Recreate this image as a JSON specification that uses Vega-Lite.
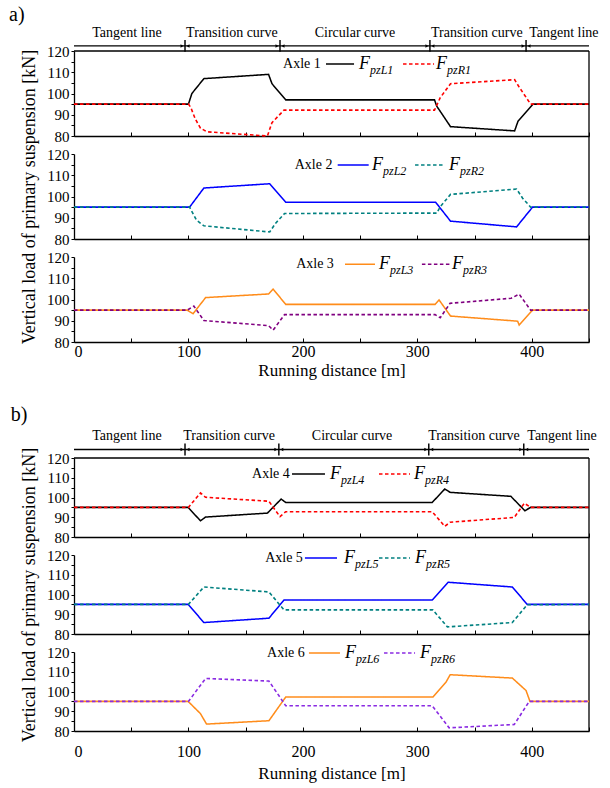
{
"$schema":"https://vega.github.io/schema/vega-lite/v6.json",
"padding":{"left":9,"top":4,"right":4,"bottom":4},
"background":"white",
"config":{"view":{"stroke":null},"font":"Liberation Serif",
 "axis":{"domainColor":"black","tickColor":"black","labelColor":"black","titleColor":"black","grid":false,"labelFont":"Liberation Serif","titleFont":"Liberation Serif","titleFontWeight":"normal","domainWidth":1.3},
 "text":{"font":"Liberation Serif","color":"black"}},
"datasets":{
"ln":[
{"p":1,"k":"L1","s":"L","x":0,"y":95},{"p":1,"k":"L1","s":"L","x":100,"y":95},{"p":1,"k":"L1","s":"L","x":103,"y":100},{"p":1,"k":"L1","s":"L","x":113.5,"y":107},{"p":1,"k":"L1","s":"L","x":170,"y":109},{"p":1,"k":"L1","s":"L","x":173,"y":104.6},{"p":1,"k":"L1","s":"L","x":185,"y":97},{"p":1,"k":"L1","s":"L","x":315,"y":97},{"p":1,"k":"L1","s":"L","x":317,"y":94},{"p":1,"k":"L1","s":"L","x":329,"y":84.4},{"p":1,"k":"L1","s":"L","x":385,"y":82.4},{"p":1,"k":"L1","s":"L","x":388,"y":87},{"p":1,"k":"L1","s":"L","x":401,"y":95},{"p":1,"k":"L1","s":"L","x":450,"y":95},
{"p":1,"k":"R1","s":"R","x":0,"y":95},{"p":1,"k":"R1","s":"R","x":100,"y":95},{"p":1,"k":"R1","s":"R","x":102,"y":93.5},{"p":1,"k":"R1","s":"R","x":106,"y":88},{"p":1,"k":"R1","s":"R","x":110.5,"y":83.7},{"p":1,"k":"R1","s":"R","x":116,"y":82},{"p":1,"k":"R1","s":"R","x":169,"y":80},{"p":1,"k":"R1","s":"R","x":173,"y":86.3},{"p":1,"k":"R1","s":"R","x":183.5,"y":92.2},{"p":1,"k":"R1","s":"R","x":315,"y":92.2},{"p":1,"k":"R1","s":"R","x":320,"y":98},{"p":1,"k":"R1","s":"R","x":329,"y":104.6},{"p":1,"k":"R1","s":"R","x":385,"y":106.5},{"p":1,"k":"R1","s":"R","x":389,"y":103},{"p":1,"k":"R1","s":"R","x":399,"y":95},{"p":1,"k":"R1","s":"R","x":450,"y":95},
{"p":2,"k":"L2","s":"L","x":0,"y":95},{"p":2,"k":"L2","s":"L","x":101,"y":95},{"p":2,"k":"L2","s":"L","x":113.5,"y":104},{"p":2,"k":"L2","s":"L","x":171,"y":106},{"p":2,"k":"L2","s":"L","x":185,"y":97.3},{"p":2,"k":"L2","s":"L","x":316,"y":97.3},{"p":2,"k":"L2","s":"L","x":329,"y":88.4},{"p":2,"k":"L2","s":"L","x":386.7,"y":85.7},{"p":2,"k":"L2","s":"L","x":400.7,"y":95},{"p":2,"k":"L2","s":"L","x":450,"y":95},
{"p":2,"k":"R2","s":"R","x":0,"y":95},{"p":2,"k":"R2","s":"R","x":101,"y":95},{"p":2,"k":"R2","s":"R","x":107,"y":88.9},{"p":2,"k":"R2","s":"R","x":113.5,"y":86.2},{"p":2,"k":"R2","s":"R","x":171,"y":83.3},{"p":2,"k":"R2","s":"R","x":176,"y":87.3},{"p":2,"k":"R2","s":"R","x":184,"y":92},{"p":2,"k":"R2","s":"R","x":317,"y":92.2},{"p":2,"k":"R2","s":"R","x":320,"y":95.2},{"p":2,"k":"R2","s":"R","x":329,"y":101},{"p":2,"k":"R2","s":"R","x":386.7,"y":103.5},{"p":2,"k":"R2","s":"R","x":392,"y":99.2},{"p":2,"k":"R2","s":"R","x":399,"y":95},{"p":2,"k":"R2","s":"R","x":450,"y":95},
{"p":3,"k":"L3","s":"L","x":0,"y":95},{"p":3,"k":"L3","s":"L","x":99,"y":95},{"p":3,"k":"L3","s":"L","x":104,"y":93.3},{"p":3,"k":"L3","s":"L","x":115,"y":100.9},{"p":3,"k":"L3","s":"L","x":170,"y":102.6},{"p":3,"k":"L3","s":"L","x":174,"y":104.9},{"p":3,"k":"L3","s":"L","x":185,"y":97.7},{"p":3,"k":"L3","s":"L","x":315.5,"y":97.7},{"p":3,"k":"L3","s":"L","x":319,"y":99.8},{"p":3,"k":"L3","s":"L","x":329,"y":92.2},{"p":3,"k":"L3","s":"L","x":387.6,"y":89.8},{"p":3,"k":"L3","s":"L","x":389,"y":88},{"p":3,"k":"L3","s":"L","x":400.7,"y":95},{"p":3,"k":"L3","s":"L","x":450,"y":95},
{"p":3,"k":"R3","s":"R","x":0,"y":95},{"p":3,"k":"R3","s":"R","x":99,"y":95},{"p":3,"k":"R3","s":"R","x":104.7,"y":96.9},{"p":3,"k":"R3","s":"R","x":113.5,"y":90.1},{"p":3,"k":"R3","s":"R","x":170,"y":87.7},{"p":3,"k":"R3","s":"R","x":174,"y":85.6},{"p":3,"k":"R3","s":"R","x":184,"y":92.9},{"p":3,"k":"R3","s":"R","x":315.5,"y":92.9},{"p":3,"k":"R3","s":"R","x":320,"y":91.4},{"p":3,"k":"R3","s":"R","x":328.6,"y":98.2},{"p":3,"k":"R3","s":"R","x":382,"y":100.6},{"p":3,"k":"R3","s":"R","x":389,"y":102.5},{"p":3,"k":"R3","s":"R","x":399,"y":95},{"p":3,"k":"R3","s":"R","x":450,"y":95},
{"p":4,"k":"L4","s":"L","x":0,"y":95},{"p":4,"k":"L4","s":"L","x":99.7,"y":95},{"p":4,"k":"L4","s":"L","x":110.5,"y":88.2},{"p":4,"k":"L4","s":"L","x":115,"y":90.1},{"p":4,"k":"L4","s":"L","x":169,"y":92.1},{"p":4,"k":"L4","s":"L","x":181,"y":99.2},{"p":4,"k":"L4","s":"L","x":185,"y":97.5},{"p":4,"k":"L4","s":"L","x":313,"y":97.5},{"p":4,"k":"L4","s":"L","x":324,"y":104.3},{"p":4,"k":"L4","s":"L","x":328.7,"y":102.6},{"p":4,"k":"L4","s":"L","x":381.7,"y":100.6},{"p":4,"k":"L4","s":"L","x":394,"y":93.3},{"p":4,"k":"L4","s":"L","x":399,"y":95},{"p":4,"k":"L4","s":"L","x":450,"y":95},
{"p":4,"k":"R4","s":"R","x":0,"y":95},{"p":4,"k":"R4","s":"R","x":100,"y":95},{"p":4,"k":"R4","s":"R","x":110.5,"y":102.3},{"p":4,"k":"R4","s":"R","x":115,"y":100.1},{"p":4,"k":"R4","s":"R","x":170.3,"y":98.1},{"p":4,"k":"R4","s":"R","x":176,"y":93.5},{"p":4,"k":"R4","s":"R","x":180,"y":90.3},{"p":4,"k":"R4","s":"R","x":185,"y":92.8},{"p":4,"k":"R4","s":"R","x":313,"y":92.8},{"p":4,"k":"R4","s":"R","x":324,"y":85.4},{"p":4,"k":"R4","s":"R","x":328.7,"y":87.5},{"p":4,"k":"R4","s":"R","x":384.7,"y":89.9},{"p":4,"k":"R4","s":"R","x":393.5,"y":97.1},{"p":4,"k":"R4","s":"R","x":399,"y":95},{"p":4,"k":"R4","s":"R","x":450,"y":95},
{"p":5,"k":"L5","s":"L","x":0,"y":95},{"p":5,"k":"L5","s":"L","x":99.7,"y":95},{"p":5,"k":"L5","s":"L","x":113.5,"y":85.8},{"p":5,"k":"L5","s":"L","x":170.3,"y":88},{"p":5,"k":"L5","s":"L","x":183.5,"y":97.2},{"p":5,"k":"L5","s":"L","x":313,"y":97.2},{"p":5,"k":"L5","s":"L","x":327,"y":106.2},{"p":5,"k":"L5","s":"L","x":383,"y":103.8},{"p":5,"k":"L5","s":"L","x":396,"y":95},{"p":5,"k":"L5","s":"L","x":450,"y":95},
{"p":5,"k":"R5","s":"R","x":0,"y":95},{"p":5,"k":"R5","s":"R","x":100,"y":95},{"p":5,"k":"R5","s":"R","x":113.5,"y":103.8},{"p":5,"k":"R5","s":"R","x":170.3,"y":101.3},{"p":5,"k":"R5","s":"R","x":183.5,"y":92.2},{"p":5,"k":"R5","s":"R","x":313.5,"y":92.2},{"p":5,"k":"R5","s":"R","x":326.3,"y":83.6},{"p":5,"k":"R5","s":"R","x":383,"y":85.8},{"p":5,"k":"R5","s":"R","x":396,"y":94.8},{"p":5,"k":"R5","s":"R","x":450,"y":95},
{"p":6,"k":"L6","s":"L","x":0,"y":95},{"p":6,"k":"L6","s":"L","x":99.7,"y":95},{"p":6,"k":"L6","s":"L","x":110.5,"y":88.8},{"p":6,"k":"L6","s":"L","x":115.8,"y":83.5},{"p":6,"k":"L6","s":"L","x":170.3,"y":85.2},{"p":6,"k":"L6","s":"L","x":185,"y":97.2},{"p":6,"k":"L6","s":"L","x":313.7,"y":97.2},{"p":6,"k":"L6","s":"L","x":325,"y":104.7},{"p":6,"k":"L6","s":"L","x":328.7,"y":108.5},{"p":6,"k":"L6","s":"L","x":383,"y":106.8},{"p":6,"k":"L6","s":"L","x":395,"y":100.5},{"p":6,"k":"L6","s":"L","x":398.4,"y":95},{"p":6,"k":"L6","s":"L","x":450,"y":95},
{"p":6,"k":"R6","s":"R","x":0,"y":95},{"p":6,"k":"R6","s":"R","x":100,"y":95},{"p":6,"k":"R6","s":"R","x":115,"y":106.6},{"p":6,"k":"R6","s":"R","x":170.3,"y":105.3},{"p":6,"k":"R6","s":"R","x":185,"y":92.8},{"p":6,"k":"R6","s":"R","x":313,"y":92.8},{"p":6,"k":"R6","s":"R","x":327.8,"y":81.6},{"p":6,"k":"R6","s":"R","x":384.7,"y":83.3},{"p":6,"k":"R6","s":"R","x":397.8,"y":95},{"p":6,"k":"R6","s":"R","x":450,"y":95}
],
"rl":[
{"p":1,"t":"frame","x":450,"x2":450,"y":80,"y2":120},{"p":1,"t":"frame","x":0,"x2":450,"y":120,"y2":120},{"p":1,"t":"annot","x":0,"x2":450,"y":122.4,"y2":122.4},
{"p":1,"t":"mark","x":97,"x2":97,"y":119.6,"y2":125.2},{"p":1,"t":"mark","x":180,"x2":180,"y":119.6,"y2":125.2},{"p":1,"t":"mark","x":311,"x2":311,"y":119.6,"y2":125.2},{"p":1,"t":"mark","x":395,"x2":395,"y":119.6,"y2":125.2},
{"p":2,"t":"frame","x":450,"x2":450,"y":80,"y2":128.5},
{"p":3,"t":"frame","x":450,"x2":450,"y":80,"y2":128.5},
{"p":4,"t":"frame","x":450,"x2":450,"y":80,"y2":120},{"p":4,"t":"frame","x":0,"x2":450,"y":120,"y2":120},{"p":4,"t":"annot","x":0,"x2":450,"y":124.3,"y2":124.3},
{"p":4,"t":"mark","x":97,"x2":97,"y":121.3,"y2":127.3},{"p":4,"t":"mark","x":179,"x2":179,"y":121.3,"y2":127.3},{"p":4,"t":"mark","x":310,"x2":310,"y":121.3,"y2":127.3},{"p":4,"t":"mark","x":393,"x2":393,"y":121.3,"y2":127.3},
{"p":5,"t":"frame","x":450,"x2":450,"y":80,"y2":129.1},
{"p":6,"t":"frame","x":450,"x2":450,"y":80,"y2":129.1}
],
"ar":[
{"p":1,"d":"r","x":94.4,"y":122.4},{"p":1,"d":"l","x":99.6,"y":122.4},{"p":1,"d":"r","x":177.4,"y":122.4},{"p":1,"d":"l","x":182.6,"y":122.4},{"p":1,"d":"r","x":308.4,"y":122.4},{"p":1,"d":"l","x":313.6,"y":122.4},{"p":1,"d":"r","x":392.4,"y":122.4},{"p":1,"d":"l","x":397.6,"y":122.4},
{"p":4,"d":"r","x":94.4,"y":124.3},{"p":4,"d":"l","x":99.6,"y":124.3},{"p":4,"d":"r","x":176.4,"y":124.3},{"p":4,"d":"l","x":181.6,"y":124.3},{"p":4,"d":"r","x":307.4,"y":124.3},{"p":4,"d":"l","x":312.6,"y":124.3},{"p":4,"d":"r","x":390.4,"y":124.3},{"p":4,"d":"l","x":395.6,"y":124.3}
],
"lg":[
{"p":1,"k":"L1","s":"L","x":220.2,"x2":244.7,"y":113.9,"xf":249,"sub":"pzL1"},{"p":1,"k":"R1","s":"R","x":287.5,"x2":314.6,"y":113.9,"xf":316.3,"sub":"pzR1"},
{"p":2,"k":"L2","s":"L","x":230.4,"x2":257.5,"y":114.8,"xf":260.4,"sub":"pzL2"},{"p":2,"k":"R2","s":"R","x":298,"x2":324.2,"y":114.8,"xf":327.7,"sub":"pzR2"},
{"p":3,"k":"L3","s":"L","x":236.8,"x2":263,"y":116.6,"xf":266.5,"sub":"pzL3"},{"p":3,"k":"R3","s":"R","x":304,"x2":328.6,"y":116.6,"xf":330.3,"sub":"pzR3"},
{"p":4,"k":"L4","s":"L","x":190.5,"x2":219.3,"y":111.9,"xf":223.7,"sub":"pzL4"},{"p":4,"k":"R4","s":"R","x":266.5,"x2":293.6,"y":111.9,"xf":297.1,"sub":"pzR4"},
{"p":5,"k":"L5","s":"L","x":201.8,"x2":229.8,"y":118.5,"xf":236,"sub":"pzL5"},{"p":5,"k":"R5","s":"R","x":266.5,"x2":293.6,"y":118.5,"xf":298,"sub":"pzR5"},
{"p":6,"k":"L6","s":"L","x":205.3,"x2":232.4,"y":119.5,"xf":236.8,"sub":"pzL6"},{"p":6,"k":"R6","s":"R","x":270.9,"x2":298,"y":119.5,"xf":302.3,"sub":"pzR6"}
],
"tx":[
{"p":1,"t":"axle","x":199.2,"y":113.9,"text":"Axle 1"},{"p":1,"t":"sec","x":46.3,"y":128.5,"text":"Tangent line"},{"p":1,"t":"sec","x":138,"y":128.5,"text":"Transition curve"},{"p":1,"t":"sec","x":245.5,"y":128.5,"text":"Circular curve"},{"p":1,"t":"sec","x":352,"y":128.5,"text":"Transition curve"},{"p":1,"t":"sec","x":428,"y":128.5,"text":"Tangent line"},{"p":1,"t":"pan","x":-50,"y":137,"text":"a)"},
{"p":2,"t":"axle","x":209.3,"y":114.8,"text":"Axle 2"},
{"p":3,"t":"axle","x":210.6,"y":116.6,"text":"Axle 3"},
{"p":4,"t":"axle","x":172.1,"y":111.9,"text":"Axle 4"},{"p":4,"t":"sec","x":46.3,"y":131,"text":"Tangent line"},{"p":4,"t":"sec","x":135.5,"y":131,"text":"Transition curve"},{"p":4,"t":"sec","x":243,"y":131,"text":"Circular curve"},{"p":4,"t":"sec","x":349.5,"y":131,"text":"Transition curve"},{"p":4,"t":"sec","x":426.4,"y":131,"text":"Tangent line"},{"p":4,"t":"pan","x":-48,"y":141.8,"text":"b)"},
{"p":5,"t":"axle","x":183.5,"y":118.5,"text":"Axle 5"},
{"p":6,"t":"axle","x":185.2,"y":119.5,"text":"Axle 6"}
]
},
"vconcat":[
{"width":515,"height":85,
 "encoding":{"x":{"field":"x","type":"quantitative","scale":{"domain":[0,450],"nice":false,"zero":false},"axis":{"values":[0,50,100,150,200,250,300,350,400,450],"labels":false,"tickSize":-4,"title":null}},
  "y":{"field":"y","type":"quantitative","scale":{"domain":[80,120],"nice":false,"zero":false},"axis":{"values":[80,85,90,95,100,105,110,115,120],"labelExpr":"datum.value % 10 == 0 ? datum.label : ''","tickSize":3,"labelPadding":2,"labelFontSize":15,"title":null}}},
 "layer":[
  {"data":{"name":"rl"},"transform":[{"filter":"datum.p==1"}],"mark":{"type":"rule","color":"black"},"encoding":{"x2":{"field":"x2"},"y2":{"field":"y2"},"strokeWidth":{"field":"t","type":"ordinal","scale":{"domain":["frame","annot","mark"],"range":[1.3,1.6,1.3]},"legend":null}}},
  {"data":{"name":"ln"},"transform":[{"filter":"datum.p==1"}],"mark":{"type":"line"},"encoding":{"color":{"field":"k","type":"nominal","scale":{"domain":["L1","R1","L2","R2","L3","R3","L4","R4","L5","R5","L6","R6"],"range":["#000000","#ff0000","#0000ff","#008080","#ff8c1a","#800080","#000000","#ff0000","#0000ff","#008080","#ff8c1a","#8a2be2"]},"legend":null},"strokeDash":{"field":"s","type":"nominal","scale":{"domain":["L","R"],"range":[[1,0],[3.5,2.5]]},"legend":null},"strokeWidth":{"field":"s","type":"ordinal","scale":{"domain":["L","R"],"range":[1.6,2.6]},"legend":null}}},
  {"data":{"name":"lg"},"transform":[{"filter":"datum.p==1"}],"mark":{"type":"rule"},"encoding":{"x2":{"field":"x2"},"color":{"field":"k","type":"nominal","scale":{"domain":["L1","R1","L2","R2","L3","R3","L4","R4","L5","R5","L6","R6"],"range":["#000000","#ff0000","#0000ff","#008080","#ff8c1a","#800080","#000000","#ff0000","#0000ff","#008080","#ff8c1a","#8a2be2"]},"legend":null},"strokeDash":{"field":"s","type":"nominal","scale":{"domain":["L","R"],"range":[[1,0],[3.5,2.5]]},"legend":null},"strokeWidth":{"field":"s","type":"ordinal","scale":{"domain":["L","R"],"range":[1.6,2.6]},"legend":null}}},
  {"data":{"name":"lg"},"transform":[{"filter":"datum.p==1"}],"mark":{"type":"text","align":"left","baseline":"middle","fontStyle":"italic","fontSize":18},"encoding":{"x":{"field":"xf","type":"quantitative"},"text":{"value":"F"}}},
  {"data":{"name":"lg"},"transform":[{"filter":"datum.p==1"}],"mark":{"type":"text","align":"left","baseline":"middle","fontStyle":"italic","fontSize":12,"dx":11,"dy":6},"encoding":{"x":{"field":"xf","type":"quantitative"},"text":{"field":"sub"}}},
  {"data":{"name":"tx"},"transform":[{"filter":"datum.p==1 && datum.t!='pan'"}],"mark":{"type":"text","baseline":"middle","fontSize":14},"encoding":{"text":{"field":"text"}}},
  {"data":{"name":"tx"},"transform":[{"filter":"datum.p==1 && datum.t=='pan'"}],"mark":{"type":"text","baseline":"middle","fontSize":20},"encoding":{"text":{"field":"text"}}},
  {"data":{"name":"ar"},"transform":[{"filter":"datum.p==1"}],"mark":{"type":"point","filled":true,"color":"black","size":12,"opacity":1},"encoding":{"shape":{"field":"d","type":"nominal","scale":{"domain":["r","l"],"range":["triangle-right","triangle-left"]},"legend":null}}}
 ]},
{"width":515,"height":85,
 "encoding":{"x":{"field":"x","type":"quantitative","scale":{"domain":[0,450],"nice":false,"zero":false},"axis":{"values":[0,50,100,150,200,250,300,350,400,450],"labels":false,"tickSize":-4,"title":null}},
  "y":{"field":"y","type":"quantitative","scale":{"domain":[80,120],"nice":false,"zero":false},"axis":{"values":[80,85,90,95,100,105,110,115,120],"labelExpr":"datum.value % 10 == 0 ? datum.label : ''","tickSize":3,"labelPadding":2,"labelFontSize":15,"title":"Vertical load of primary suspension [kN]","titleFontSize":18,"titlePadding":8}}},
 "layer":[
  {"data":{"name":"rl"},"transform":[{"filter":"datum.p==2"}],"mark":{"type":"rule","color":"black"},"encoding":{"x2":{"field":"x2"},"y2":{"field":"y2"},"strokeWidth":{"field":"t","type":"ordinal","scale":{"domain":["frame","annot","mark"],"range":[1.3,1.6,1.3]},"legend":null}}},
  {"data":{"name":"ln"},"transform":[{"filter":"datum.p==2"}],"mark":{"type":"line"},"encoding":{"color":{"field":"k","type":"nominal","scale":{"domain":["L1","R1","L2","R2","L3","R3","L4","R4","L5","R5","L6","R6"],"range":["#000000","#ff0000","#0000ff","#008080","#ff8c1a","#800080","#000000","#ff0000","#0000ff","#008080","#ff8c1a","#8a2be2"]},"legend":null},"strokeDash":{"field":"s","type":"nominal","scale":{"domain":["L","R"],"range":[[1,0],[3.5,2.5]]},"legend":null},"strokeWidth":{"field":"s","type":"ordinal","scale":{"domain":["L","R"],"range":[1.6,2.6]},"legend":null}}},
  {"data":{"name":"lg"},"transform":[{"filter":"datum.p==2"}],"mark":{"type":"rule"},"encoding":{"x2":{"field":"x2"},"color":{"field":"k","type":"nominal","scale":{"domain":["L1","R1","L2","R2","L3","R3","L4","R4","L5","R5","L6","R6"],"range":["#000000","#ff0000","#0000ff","#008080","#ff8c1a","#800080","#000000","#ff0000","#0000ff","#008080","#ff8c1a","#8a2be2"]},"legend":null},"strokeDash":{"field":"s","type":"nominal","scale":{"domain":["L","R"],"range":[[1,0],[3.5,2.5]]},"legend":null},"strokeWidth":{"field":"s","type":"ordinal","scale":{"domain":["L","R"],"range":[1.6,2.6]},"legend":null}}},
  {"data":{"name":"lg"},"transform":[{"filter":"datum.p==2"}],"mark":{"type":"text","align":"left","baseline":"middle","fontStyle":"italic","fontSize":18},"encoding":{"x":{"field":"xf","type":"quantitative"},"text":{"value":"F"}}},
  {"data":{"name":"lg"},"transform":[{"filter":"datum.p==2"}],"mark":{"type":"text","align":"left","baseline":"middle","fontStyle":"italic","fontSize":12,"dx":11,"dy":6},"encoding":{"x":{"field":"xf","type":"quantitative"},"text":{"field":"sub"}}},
  {"data":{"name":"tx"},"transform":[{"filter":"datum.p==2"}],"mark":{"type":"text","baseline":"middle","fontSize":14},"encoding":{"text":{"field":"text"}}}
 ]},
{"width":515,"height":85,
 "encoding":{"x":{"field":"x","type":"quantitative","scale":{"domain":[0,450],"nice":false,"zero":false},"axis":{"values":[0,50,100,150,200,250,300,350,400,450],"labelExpr":"datum.value % 100 == 0 ? datum.label : ''","labelFontSize":16,"labelPadding":5,"tickSize":-4,"title":"Running distance [m]","titleFontSize":17,"titlePadding":3}},
  "y":{"field":"y","type":"quantitative","scale":{"domain":[80,120],"nice":false,"zero":false},"axis":{"values":[80,85,90,95,100,105,110,115,120],"labelExpr":"datum.value % 10 == 0 ? datum.label : ''","tickSize":3,"labelPadding":2,"labelFontSize":15,"title":null}}},
 "layer":[
  {"data":{"name":"rl"},"transform":[{"filter":"datum.p==3"}],"mark":{"type":"rule","color":"black"},"encoding":{"x2":{"field":"x2"},"y2":{"field":"y2"},"strokeWidth":{"field":"t","type":"ordinal","scale":{"domain":["frame","annot","mark"],"range":[1.3,1.6,1.3]},"legend":null}}},
  {"data":{"name":"ln"},"transform":[{"filter":"datum.p==3"}],"mark":{"type":"line"},"encoding":{"color":{"field":"k","type":"nominal","scale":{"domain":["L1","R1","L2","R2","L3","R3","L4","R4","L5","R5","L6","R6"],"range":["#000000","#ff0000","#0000ff","#008080","#ff8c1a","#800080","#000000","#ff0000","#0000ff","#008080","#ff8c1a","#8a2be2"]},"legend":null},"strokeDash":{"field":"s","type":"nominal","scale":{"domain":["L","R"],"range":[[1,0],[3.5,2.5]]},"legend":null},"strokeWidth":{"field":"s","type":"ordinal","scale":{"domain":["L","R"],"range":[1.6,2.6]},"legend":null}}},
  {"data":{"name":"lg"},"transform":[{"filter":"datum.p==3"}],"mark":{"type":"rule"},"encoding":{"x2":{"field":"x2"},"color":{"field":"k","type":"nominal","scale":{"domain":["L1","R1","L2","R2","L3","R3","L4","R4","L5","R5","L6","R6"],"range":["#000000","#ff0000","#0000ff","#008080","#ff8c1a","#800080","#000000","#ff0000","#0000ff","#008080","#ff8c1a","#8a2be2"]},"legend":null},"strokeDash":{"field":"s","type":"nominal","scale":{"domain":["L","R"],"range":[[1,0],[3.5,2.5]]},"legend":null},"strokeWidth":{"field":"s","type":"ordinal","scale":{"domain":["L","R"],"range":[1.6,2.6]},"legend":null}}},
  {"data":{"name":"lg"},"transform":[{"filter":"datum.p==3"}],"mark":{"type":"text","align":"left","baseline":"middle","fontStyle":"italic","fontSize":18},"encoding":{"x":{"field":"xf","type":"quantitative"},"text":{"value":"F"}}},
  {"data":{"name":"lg"},"transform":[{"filter":"datum.p==3"}],"mark":{"type":"text","align":"left","baseline":"middle","fontStyle":"italic","fontSize":12,"dx":11,"dy":6},"encoding":{"x":{"field":"xf","type":"quantitative"},"text":{"field":"sub"}}},
  {"data":{"name":"tx"},"transform":[{"filter":"datum.p==3"}],"mark":{"type":"text","baseline":"middle","fontSize":14},"encoding":{"text":{"field":"text"}}}
 ]},
{"width":515,"height":80,"data":{"values":[{"a":1}]},"mark":{"type":"text"},"encoding":{"text":{"value":""}}},
{"width":515,"height":79,
 "encoding":{"x":{"field":"x","type":"quantitative","scale":{"domain":[0,450],"nice":false,"zero":false},"axis":{"values":[0,50,100,150,200,250,300,350,400,450],"labels":false,"tickSize":-4,"title":null}},
  "y":{"field":"y","type":"quantitative","scale":{"domain":[80,120],"nice":false,"zero":false},"axis":{"values":[80,85,90,95,100,105,110,115,120],"labelExpr":"datum.value % 10 == 0 ? datum.label : ''","tickSize":3,"labelPadding":2,"labelFontSize":15,"title":null}}},
 "layer":[
  {"data":{"name":"rl"},"transform":[{"filter":"datum.p==4"}],"mark":{"type":"rule","color":"black"},"encoding":{"x2":{"field":"x2"},"y2":{"field":"y2"},"strokeWidth":{"field":"t","type":"ordinal","scale":{"domain":["frame","annot","mark"],"range":[1.3,1.6,1.3]},"legend":null}}},
  {"data":{"name":"ln"},"transform":[{"filter":"datum.p==4"}],"mark":{"type":"line"},"encoding":{"color":{"field":"k","type":"nominal","scale":{"domain":["L1","R1","L2","R2","L3","R3","L4","R4","L5","R5","L6","R6"],"range":["#000000","#ff0000","#0000ff","#008080","#ff8c1a","#800080","#000000","#ff0000","#0000ff","#008080","#ff8c1a","#8a2be2"]},"legend":null},"strokeDash":{"field":"s","type":"nominal","scale":{"domain":["L","R"],"range":[[1,0],[3.5,2.5]]},"legend":null},"strokeWidth":{"field":"s","type":"ordinal","scale":{"domain":["L","R"],"range":[1.6,2.6]},"legend":null}}},
  {"data":{"name":"lg"},"transform":[{"filter":"datum.p==4"}],"mark":{"type":"rule"},"encoding":{"x2":{"field":"x2"},"color":{"field":"k","type":"nominal","scale":{"domain":["L1","R1","L2","R2","L3","R3","L4","R4","L5","R5","L6","R6"],"range":["#000000","#ff0000","#0000ff","#008080","#ff8c1a","#800080","#000000","#ff0000","#0000ff","#008080","#ff8c1a","#8a2be2"]},"legend":null},"strokeDash":{"field":"s","type":"nominal","scale":{"domain":["L","R"],"range":[[1,0],[3.5,2.5]]},"legend":null},"strokeWidth":{"field":"s","type":"ordinal","scale":{"domain":["L","R"],"range":[1.6,2.6]},"legend":null}}},
  {"data":{"name":"lg"},"transform":[{"filter":"datum.p==4"}],"mark":{"type":"text","align":"left","baseline":"middle","fontStyle":"italic","fontSize":18},"encoding":{"x":{"field":"xf","type":"quantitative"},"text":{"value":"F"}}},
  {"data":{"name":"lg"},"transform":[{"filter":"datum.p==4"}],"mark":{"type":"text","align":"left","baseline":"middle","fontStyle":"italic","fontSize":12,"dx":11,"dy":6},"encoding":{"x":{"field":"xf","type":"quantitative"},"text":{"field":"sub"}}},
  {"data":{"name":"tx"},"transform":[{"filter":"datum.p==4 && datum.t!='pan'"}],"mark":{"type":"text","baseline":"middle","fontSize":14},"encoding":{"text":{"field":"text"}}},
  {"data":{"name":"tx"},"transform":[{"filter":"datum.p==4 && datum.t=='pan'"}],"mark":{"type":"text","baseline":"middle","fontSize":20},"encoding":{"text":{"field":"text"}}},
  {"data":{"name":"ar"},"transform":[{"filter":"datum.p==4"}],"mark":{"type":"point","filled":true,"color":"black","size":12,"opacity":1},"encoding":{"shape":{"field":"d","type":"nominal","scale":{"domain":["r","l"],"range":["triangle-right","triangle-left"]},"legend":null}}}
 ]},
{"width":515,"height":79,
 "encoding":{"x":{"field":"x","type":"quantitative","scale":{"domain":[0,450],"nice":false,"zero":false},"axis":{"values":[0,50,100,150,200,250,300,350,400,450],"labels":false,"tickSize":-4,"title":null}},
  "y":{"field":"y","type":"quantitative","scale":{"domain":[80,120],"nice":false,"zero":false},"axis":{"values":[80,85,90,95,100,105,110,115,120],"labelExpr":"datum.value % 10 == 0 ? datum.label : ''","tickSize":3,"labelPadding":2,"labelFontSize":15,"title":"Vertical load of primary suspension [kN]","titleFontSize":18,"titlePadding":8}}},
 "layer":[
  {"data":{"name":"rl"},"transform":[{"filter":"datum.p==5"}],"mark":{"type":"rule","color":"black"},"encoding":{"x2":{"field":"x2"},"y2":{"field":"y2"},"strokeWidth":{"field":"t","type":"ordinal","scale":{"domain":["frame","annot","mark"],"range":[1.3,1.6,1.3]},"legend":null}}},
  {"data":{"name":"ln"},"transform":[{"filter":"datum.p==5"}],"mark":{"type":"line"},"encoding":{"color":{"field":"k","type":"nominal","scale":{"domain":["L1","R1","L2","R2","L3","R3","L4","R4","L5","R5","L6","R6"],"range":["#000000","#ff0000","#0000ff","#008080","#ff8c1a","#800080","#000000","#ff0000","#0000ff","#008080","#ff8c1a","#8a2be2"]},"legend":null},"strokeDash":{"field":"s","type":"nominal","scale":{"domain":["L","R"],"range":[[1,0],[3.5,2.5]]},"legend":null},"strokeWidth":{"field":"s","type":"ordinal","scale":{"domain":["L","R"],"range":[1.6,2.6]},"legend":null}}},
  {"data":{"name":"lg"},"transform":[{"filter":"datum.p==5"}],"mark":{"type":"rule"},"encoding":{"x2":{"field":"x2"},"color":{"field":"k","type":"nominal","scale":{"domain":["L1","R1","L2","R2","L3","R3","L4","R4","L5","R5","L6","R6"],"range":["#000000","#ff0000","#0000ff","#008080","#ff8c1a","#800080","#000000","#ff0000","#0000ff","#008080","#ff8c1a","#8a2be2"]},"legend":null},"strokeDash":{"field":"s","type":"nominal","scale":{"domain":["L","R"],"range":[[1,0],[3.5,2.5]]},"legend":null},"strokeWidth":{"field":"s","type":"ordinal","scale":{"domain":["L","R"],"range":[1.6,2.6]},"legend":null}}},
  {"data":{"name":"lg"},"transform":[{"filter":"datum.p==5"}],"mark":{"type":"text","align":"left","baseline":"middle","fontStyle":"italic","fontSize":18},"encoding":{"x":{"field":"xf","type":"quantitative"},"text":{"value":"F"}}},
  {"data":{"name":"lg"},"transform":[{"filter":"datum.p==5"}],"mark":{"type":"text","align":"left","baseline":"middle","fontStyle":"italic","fontSize":12,"dx":11,"dy":6},"encoding":{"x":{"field":"xf","type":"quantitative"},"text":{"field":"sub"}}},
  {"data":{"name":"tx"},"transform":[{"filter":"datum.p==5"}],"mark":{"type":"text","baseline":"middle","fontSize":14},"encoding":{"text":{"field":"text"}}}
 ]},
{"width":515,"height":79,
 "encoding":{"x":{"field":"x","type":"quantitative","scale":{"domain":[0,450],"nice":false,"zero":false},"axis":{"values":[0,50,100,150,200,250,300,350,400,450],"labelExpr":"datum.value % 100 == 0 ? datum.label : ''","labelFontSize":16,"labelPadding":16,"tickSize":-4,"title":"Running distance [m]","titleFontSize":17,"titlePadding":6}},
  "y":{"field":"y","type":"quantitative","scale":{"domain":[80,120],"nice":false,"zero":false},"axis":{"values":[80,85,90,95,100,105,110,115,120],"labelExpr":"datum.value % 10 == 0 ? datum.label : ''","tickSize":3,"labelPadding":2,"labelFontSize":15,"title":null}}},
 "layer":[
  {"data":{"name":"rl"},"transform":[{"filter":"datum.p==6"}],"mark":{"type":"rule","color":"black"},"encoding":{"x2":{"field":"x2"},"y2":{"field":"y2"},"strokeWidth":{"field":"t","type":"ordinal","scale":{"domain":["frame","annot","mark"],"range":[1.3,1.6,1.3]},"legend":null}}},
  {"data":{"name":"ln"},"transform":[{"filter":"datum.p==6"}],"mark":{"type":"line"},"encoding":{"color":{"field":"k","type":"nominal","scale":{"domain":["L1","R1","L2","R2","L3","R3","L4","R4","L5","R5","L6","R6"],"range":["#000000","#ff0000","#0000ff","#008080","#ff8c1a","#800080","#000000","#ff0000","#0000ff","#008080","#ff8c1a","#8a2be2"]},"legend":null},"strokeDash":{"field":"s","type":"nominal","scale":{"domain":["L","R"],"range":[[1,0],[3.5,2.5]]},"legend":null},"strokeWidth":{"field":"s","type":"ordinal","scale":{"domain":["L","R"],"range":[1.6,2.6]},"legend":null}}},
  {"data":{"name":"lg"},"transform":[{"filter":"datum.p==6"}],"mark":{"type":"rule"},"encoding":{"x2":{"field":"x2"},"color":{"field":"k","type":"nominal","scale":{"domain":["L1","R1","L2","R2","L3","R3","L4","R4","L5","R5","L6","R6"],"range":["#000000","#ff0000","#0000ff","#008080","#ff8c1a","#800080","#000000","#ff0000","#0000ff","#008080","#ff8c1a","#8a2be2"]},"legend":null},"strokeDash":{"field":"s","type":"nominal","scale":{"domain":["L","R"],"range":[[1,0],[3.5,2.5]]},"legend":null},"strokeWidth":{"field":"s","type":"ordinal","scale":{"domain":["L","R"],"range":[1.6,2.6]},"legend":null}}},
  {"data":{"name":"lg"},"transform":[{"filter":"datum.p==6"}],"mark":{"type":"text","align":"left","baseline":"middle","fontStyle":"italic","fontSize":18},"encoding":{"x":{"field":"xf","type":"quantitative"},"text":{"value":"F"}}},
  {"data":{"name":"lg"},"transform":[{"filter":"datum.p==6"}],"mark":{"type":"text","align":"left","baseline":"middle","fontStyle":"italic","fontSize":12,"dx":11,"dy":6},"encoding":{"x":{"field":"xf","type":"quantitative"},"text":{"field":"sub"}}},
  {"data":{"name":"tx"},"transform":[{"filter":"datum.p==6"}],"mark":{"type":"text","baseline":"middle","fontSize":14},"encoding":{"text":{"field":"text"}}}
 ]}
],
"spacing":18,
"bounds":"flush"
}
